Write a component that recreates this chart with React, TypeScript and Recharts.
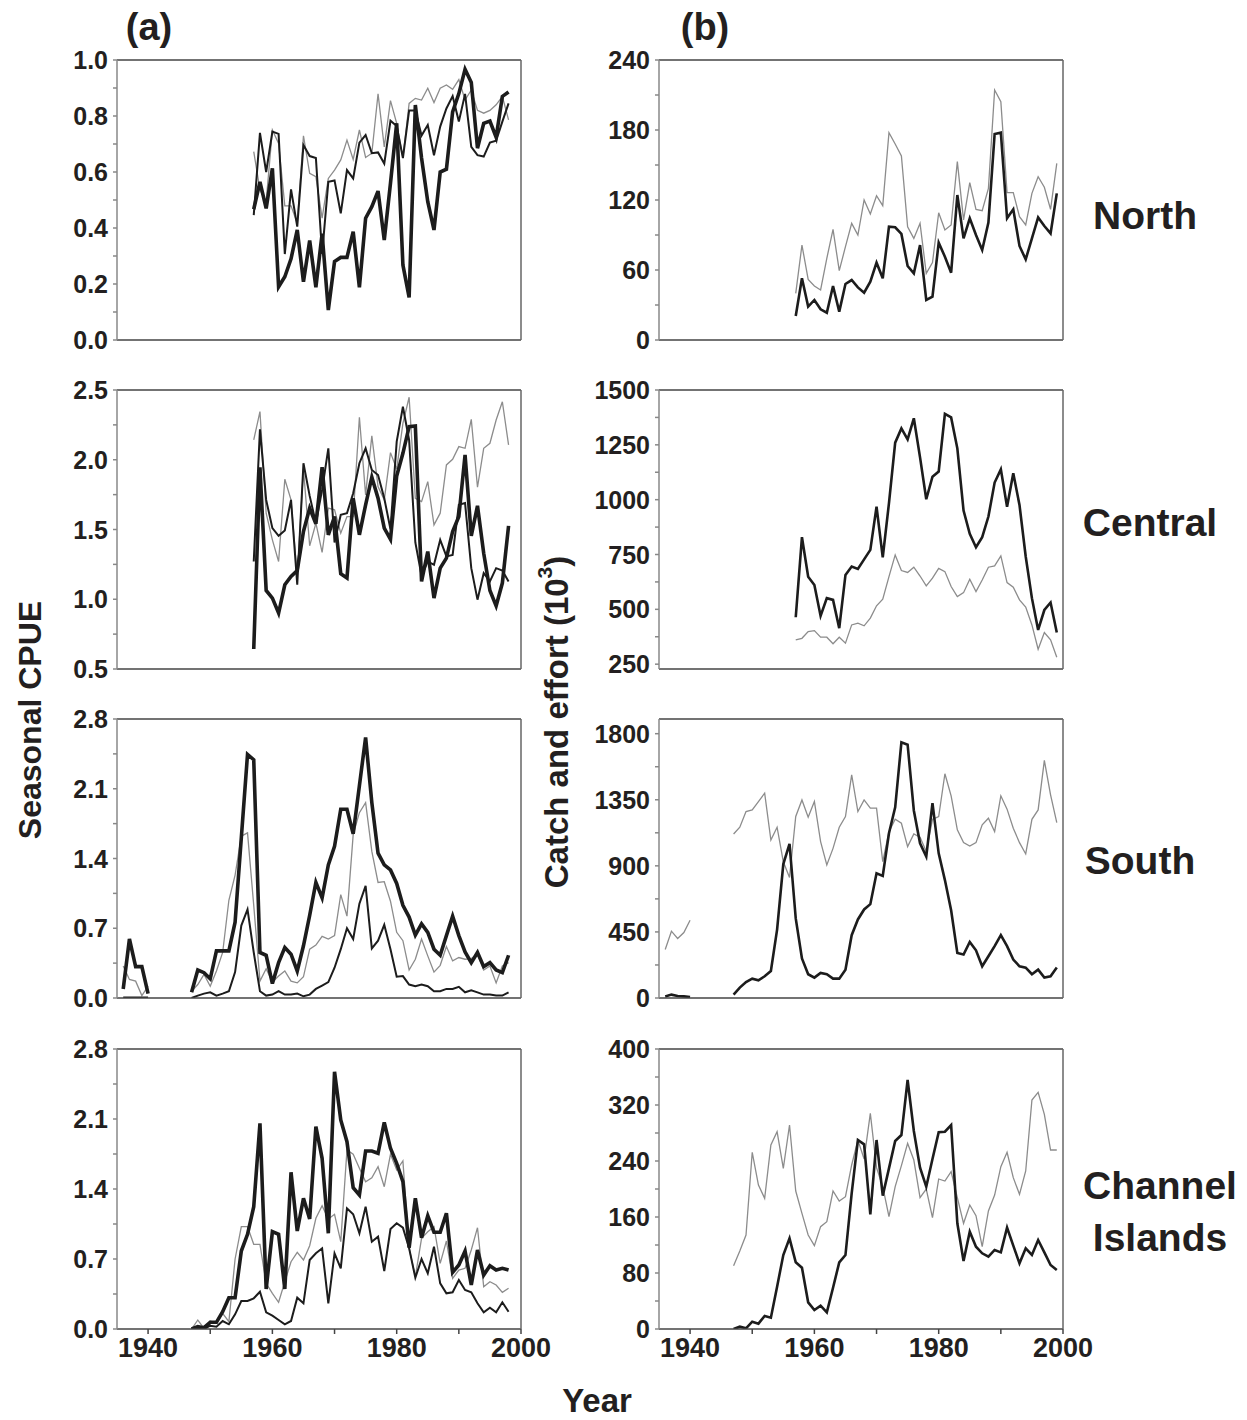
import React from 'react';
import { LineChart, Line, XAxis, YAxis } from 'recharts';

const FONT = '"Liberation Sans", Arial, Helvetica, sans-serif';
const INK = '#231f20';
const GRAY = '#8c8c8c';

// x axis
const YEAR_TICKS = [1940, 1950, 1960, 1970, 1980, 1990, 2000];
const YEAR_LABELS = [1940, 1960, 1980, 2000];

// (a) seasonal CPUE, North, 1957-1998
const A_NORTH_THICK = [0.467, 0.565, 0.47, 0.613, 0.19, 0.226, 0.29, 0.393, 0.208, 0.355, 0.188, 0.38, 0.107, 0.28, 0.295, 0.295, 0.387, 0.188, 0.435, 0.476, 0.532, 0.357, 0.56, 0.774, 0.268, 0.152, 0.839, 0.65, 0.494, 0.393, 0.6, 0.61, 0.815, 0.88, 0.967, 0.92, 0.685, 0.774, 0.782, 0.724, 0.87, 0.886];
const A_NORTH_THIN = [0.446, 0.74, 0.6, 0.744, 0.736, 0.307, 0.538, 0.405, 0.696, 0.657, 0.65, 0.307, 0.565, 0.57, 0.452, 0.607, 0.577, 0.705, 0.732, 0.667, 0.67, 0.63, 0.783, 0.764, 0.65, 0.82, 0.82, 0.73, 0.768, 0.66, 0.762, 0.827, 0.871, 0.78, 0.879, 0.69, 0.66, 0.655, 0.705, 0.712, 0.78, 0.845];
const A_NORTH_GRAY = [0.673, 0.536, 0.494, 0.75, 0.702, 0.479, 0.479, 0.417, 0.729, 0.595, 0.583, 0.435, 0.577, 0.607, 0.643, 0.714, 0.645, 0.75, 0.652, 0.667, 0.879, 0.69, 0.855, 0.774, 0.65, 0.845, 0.863, 0.857, 0.899, 0.848, 0.899, 0.911, 0.895, 0.93, 0.857, 0.893, 0.82, 0.81, 0.82, 0.84, 0.87, 0.786];

// (a) Central, 1957-1998
const A_CENTRAL_THICK = [0.643, 1.946, 1.063, 1.008, 0.901, 1.104, 1.163, 1.206, 1.486, 1.653, 1.54, 1.946, 1.462, 1.593, 1.183, 1.152, 1.724, 1.462, 1.677, 1.875, 1.724, 1.51, 1.43, 1.884, 2.046, 2.237, 2.242, 1.128, 1.342, 1.008, 1.223, 1.295, 1.486, 1.593, 2.035, 1.455, 1.67, 1.33, 1.063, 0.953, 1.116, 1.526];
const A_CENTRAL_THIN = [1.271, 2.218, 1.712, 1.51, 1.455, 1.493, 1.712, 1.104, 1.975, 1.741, 1.545, 1.784, 2.082, 1.407, 1.605, 1.617, 1.76, 1.975, 2.082, 1.927, 1.891, 1.724, 1.502, 2.13, 2.38, 2.142, 1.407, 1.168, 1.271, 1.247, 1.426, 1.307, 1.318, 1.677, 1.689, 1.223, 0.997, 1.187, 1.128, 1.223, 1.206, 1.128];
const A_CENTRAL_GRAY = [2.142, 2.345, 1.617, 1.426, 1.271, 1.86, 1.712, 1.163, 1.933, 1.383, 1.545, 1.336, 1.653, 1.641, 1.474, 1.593, 1.593, 2.305, 1.748, 2.171, 1.808, 1.712, 2.051, 1.933, 2.261, 2.448, 1.724, 1.7, 1.843, 1.533, 1.617, 1.963, 2.003, 2.094, 2.082, 2.29, 1.803, 2.082, 2.118, 2.285, 2.416, 2.106];

// (a) South, 1936-1998 (no data 1941-1946)
const A_SOUTH_THICK = [0.091, 0.592, 0.315, 0.315, 0.044, null, null, null, null, null, null, 0.057, 0.281, 0.254, 0.193, 0.473, 0.473, 0.473, 0.761, 1.606, 2.445, 2.391, 0.457, 0.429, 0.145, 0.355, 0.507, 0.44, 0.271, 0.524, 0.829, 1.16, 1.004, 1.336, 1.522, 1.894, 1.894, 1.647, 2.131, 2.614, 1.961, 1.454, 1.336, 1.285, 1.15, 0.93, 0.812, 0.632, 0.744, 0.659, 0.49, 0.429, 0.626, 0.822, 0.626, 0.463, 0.355, 0.457, 0.315, 0.355, 0.281, 0.254, 0.429];
const A_SOUTH_THIN = [0.005, 0.005, 0.005, 0.005, 0.005, null, null, null, null, null, null, 0, 0.024, 0.044, 0.057, 0.024, 0.044, 0.068, 0.26, 0.727, 0.889, 0.457, 0.068, 0.024, 0.034, 0.068, 0.034, 0.034, 0.044, 0.017, 0.034, 0.091, 0.125, 0.159, 0.304, 0.49, 0.7, 0.592, 0.947, 1.126, 0.497, 0.575, 0.734, 0.49, 0.213, 0.22, 0.135, 0.118, 0.135, 0.118, 0.068, 0.068, 0.091, 0.091, 0.112, 0.057, 0.078, 0.057, 0.034, 0.034, 0.024, 0.024, 0.057];
const A_SOUTH_GRAY = [0.321, 0.186, 0.169, 0.024, 0.118, null, null, null, null, null, null, 0.068, 0.135, 0.237, 0.118, 0.271, 0.457, 0.981, 1.234, 1.623, 1.657, 0.93, 0.169, 0.294, 0.159, 0.22, 0.271, 0.169, 0.152, 0.213, 0.49, 0.531, 0.619, 0.592, 0.626, 1.038, 0.822, 1.64, 1.86, 1.961, 1.471, 1.16, 1.167, 0.971, 0.659, 0.575, 0.281, 0.389, 0.592, 0.423, 0.26, 0.328, 0.517, 0.372, 0.406, 0.389, 0.396, 0.44, 0.281, 0.321, 0.152, 0.321, 0.355];

// (a) Channel Islands, 1947-1998
const A_CI_THICK = [0, 0.023, 0.013, 0.067, 0.067, 0.173, 0.313, 0.313, 0.78, 0.947, 1.223, 2.057, 0.4, 0.973, 0.947, 0.4, 1.567, 0.98, 1.307, 1.1, 2.023, 1.707, 0.957, 2.573, 2.09, 1.873, 1.413, 1.34, 1.78, 1.78, 1.757, 2.067, 1.807, 1.657, 1.473, 0.813, 1.307, 0.913, 1.133, 0.967, 0.967, 1.157, 0.567, 0.64, 0.78, 0.44, 0.79, 0.54, 0.633, 0.59, 0.607, 0.59];
const A_CI_THIN = [0, 0.007, 0, 0.033, 0.023, 0.08, 0.047, 0.147, 0.28, 0.28, 0.307, 0.373, 0.167, 0.133, 0.09, 0.047, 0.08, 0.313, 0.257, 0.69, 0.757, 0.807, 0.257, 0.757, 0.607, 1.207, 1.147, 0.957, 1.223, 0.873, 0.923, 0.58, 1.0, 1.057, 1.013, 0.807, 0.513, 0.7, 0.557, 0.823, 0.457, 0.357, 0.367, 0.49, 0.39, 0.367, 0.257, 0.167, 0.213, 0.167, 0.267, 0.173];
const A_CI_GRAY = [0, 0.09, 0.007, 0.08, 0.057, 0.157, 0.073, 0.7, 1.023, 1.023, 0.847, 0.847, 0.457, 0.357, 0.267, 0.473, 0.673, 0.767, 0.69, 0.833, 1.107, 1.233, 1.1, 1.147, 0.873, 1.79, 1.747, 1.607, 1.473, 1.513, 1.623, 1.423, 1.747, 1.59, 1.68, 0.807, 0.523, 0.907, 0.973, 1.023, 0.657, 0.88, 0.507, 0.59, 0.607, 0.79, 1.013, 0.423, 0.473, 0.44, 0.367, 0.407];

// (b) catch and effort (10^3), North, 1957-1999
const B_NORTH_BLACK = [20.6, 52.9, 28.6, 34.3, 26.3, 23.4, 46.3, 24.3, 48, 51.4, 45.1, 40.6, 50, 66.3, 52.9, 97.1, 96.6, 90.9, 63.4, 57.1, 81.4, 34.3, 37.1, 83.4, 71.4, 57.7, 124.3, 87.1, 104.3, 90, 77.1, 100.6, 176.6, 177.7, 104.3, 112, 80.6, 69.1, 87.1, 105.1, 97.7, 91.4, 125.7];
const B_NORTH_GRAY = [40, 81.4, 52, 46.3, 42.9, 70, 94.9, 59.4, 80, 100, 90, 120, 108, 123.7, 115.1, 177.7, 168, 157.7, 97.1, 87.1, 100, 57.1, 66.3, 109.1, 94.3, 98.6, 152.9, 102.9, 134.9, 112, 110.9, 130, 214.3, 204.3, 126.3, 126.3, 105.7, 98.6, 125.7, 140, 130.9, 112, 151.4];

// (b) Central, 1957-1999
const B_CENTRAL_BLACK = [464, 829, 649, 611, 470, 551, 543, 414, 657, 695, 684, 728, 771, 968, 737, 984, 1260, 1325, 1275, 1371, 1193, 1002, 1105, 1128, 1391, 1375, 1234, 950, 844, 783, 829, 923, 1078, 1138, 968, 1120, 976, 741, 551, 406, 497, 531, 394];
const B_CENTRAL_GRAY = [361, 368, 399, 403, 373, 373, 343, 373, 346, 429, 437, 425, 460, 516, 546, 649, 748, 677, 668, 692, 652, 607, 642, 687, 672, 604, 558, 576, 637, 581, 634, 692, 698, 744, 622, 601, 543, 510, 429, 318, 394, 361, 282];

// (b) South, 1936-1999 (no data 1941-1946)
const B_SOUTH_BLACK = [11, 23, 14, 11, 7, null, null, null, null, null, null, 23, 71, 109, 132, 121, 148, 184, 466, 912, 1049, 542, 269, 162, 139, 171, 162, 132, 132, 193, 428, 535, 603, 639, 849, 831, 1122, 1299, 1741, 1725, 1277, 1054, 963, 1327, 985, 803, 598, 307, 296, 382, 325, 216, 284, 353, 428, 353, 262, 216, 207, 162, 193, 139, 148, 207];
const B_SOUTH_GRAY = [330, 455, 405, 446, 530, null, null, null, null, null, null, 1117, 1163, 1270, 1281, 1338, 1395, 1076, 1163, 928, 821, 1236, 1349, 1231, 1338, 1065, 906, 1019, 1163, 1236, 1520, 1270, 1349, 1293, 1293, 928, 1133, 1217, 1190, 1031, 1117, 1095, 997, 1217, 1236, 1527, 1377, 1145, 1058, 1035, 1058, 1179, 1224, 1133, 1377, 1286, 1156, 1058, 981, 1217, 1281, 1618, 1384, 1195];

// (b) Channel Islands, 1947-1999
const B_CI_BLACK = [0, 3.3, 1, 10.5, 7.6, 18.6, 16.2, 60.5, 105.7, 129.5, 95.2, 87.6, 38.1, 27.1, 33.3, 23.8, 59, 95.2, 105.7, 193.8, 270, 263.8, 163.8, 270, 190.5, 229.5, 268.6, 277.1, 355.7, 282.9, 230.5, 203.3, 242.9, 281, 281.9, 291.4, 151, 97.1, 139, 117.6, 108.1, 103.3, 112.9, 109.5, 144.8, 119, 93.8, 115.2, 105.7, 127.1, 109.5, 91.4, 84.3];
const B_CI_GRAY = [90.5, 111.4, 134.3, 252.4, 205.7, 186.7, 262.9, 281.9, 229.5, 291.4, 197.1, 165.2, 134.3, 119, 146.2, 153.3, 197.1, 182.9, 189, 234.3, 270, 242.9, 308.1, 230.5, 203.3, 160.5, 203.3, 233.3, 265.2, 241.4, 187.6, 200, 159, 214.3, 211.4, 224.8, 187.6, 151, 177.1, 161.9, 117.6, 168.6, 191.4, 231.9, 252.4, 216.2, 192.4, 225.7, 327.1, 338.1, 306.7, 255.7, 255.7];

// y ticks (all = with minor ticks, major = labelled)
const A_N_TICKS = [0, 0.1, 0.2, 0.3, 0.4, 0.5, 0.6, 0.7, 0.8, 0.9, 1.0];
const A_N_MAJOR = [0, 0.2, 0.4, 0.6, 0.8, 1.0];
const A_C_TICKS = [0.5, 0.75, 1, 1.25, 1.5, 1.75, 2, 2.25, 2.5];
const A_C_MAJOR = [0.5, 1, 1.5, 2, 2.5];
const A_S_TICKS = [0, 0.35, 0.7, 1.05, 1.4, 1.75, 2.1, 2.45, 2.8];
const A_S_MAJOR = [0, 0.7, 1.4, 2.1, 2.8];
const B_N_TICKS = [0, 30, 60, 90, 120, 150, 180, 210, 240];
const B_N_MAJOR = [0, 60, 120, 180, 240];
const B_C_TICKS = [250, 375, 500, 625, 750, 875, 1000, 1125, 1250, 1375, 1500];
const B_C_MAJOR = [250, 500, 750, 1000, 1250, 1500];
const B_S_TICKS = [0, 225, 450, 675, 900, 1125, 1350, 1575, 1800];
const B_S_MAJOR = [0, 450, 900, 1350, 1800];
const B_CI_TICKS = [0, 40, 80, 120, 160, 200, 240, 280, 320, 360, 400];
const B_CI_MAJOR = [0, 80, 160, 240, 320, 400];

const buildRows = (start: number, series: Record<string, (number | null)[]>) => {
  const n = Math.max(...Object.values(series).map((s) => s.length));
  return Array.from({ length: n }, (_, i) => {
    const row: any = { year: start + i };
    Object.keys(series).forEach((k) => {
      row[k] = series[k][i] ?? null;
    });
    return row;
  });
};

const THICK = { key: 'thick', color: '#1c1c1c', width: 3.6 };
const THIN = { key: 'thin', color: '#1c1c1c', width: 2 };
const GRAY_A = { key: 'gray', color: GRAY, width: 1.3 };
const BLACK_B = { key: 'black', color: '#1c1c1c', width: 2.6 };
const GRAY_B = { key: 'gray', color: GRAY, width: 1.3 };

const A_SERIES = [GRAY_A, THIN, THICK];
const B_SERIES = [GRAY_B, BLACK_B];

const XTick = (props: any) => {
  const { x, y, payload } = props;
  if (!YEAR_LABELS.includes(payload.value)) return <g />;
  return (
    <text x={x} y={y} dy="0.71em" textAnchor="middle" fontFamily={FONT} fontWeight="bold" fontSize={27} fill={INK}>
      {payload.value}
    </text>
  );
};

const makeYTick = (major: number[], digits: number) => (props: any) => {
  const { x, y, payload } = props;
  if (!major.includes(payload.value)) return <g />;
  return (
    <text x={x} y={y} dy="0.36em" textAnchor="end" fontFamily={FONT} fontWeight="bold" fontSize={25} fill={INK}>
      {payload.value.toFixed(digits)}
    </text>
  );
};

type PanelProps = {
  left: number;
  top: number;
  plotH: number;
  rows: any[];
  series: { key: string; color: string; width: number }[];
  domain: [number, number];
  ticks: number[];
  major: number[];
  digits: number;
  xLabels?: boolean;
};

const Panel = ({ left, top, plotH, rows, series, domain, ticks, major, digits, xLabels }: PanelProps) => {
  const xh = xLabels ? 50 : 20;
  return (
    <div style={{ position: 'absolute', left: left - 75, top: top - 18 }}>
      <LineChart width={514} height={18 + plotH + xh} data={rows} margin={{ top: 18, right: 35, bottom: 0, left: 0 }}>
        <XAxis
          xAxisId="b"
          dataKey="year"
          type="number"
          domain={[1935, 2000]}
          allowDataOverflow
          ticks={YEAR_TICKS}
          interval={0}
          height={xh}
          tickSize={5}
          tickMargin={4}
          tick={xLabels ? XTick : false}
          stroke="#444"
          strokeWidth={1.5}
        />
        <XAxis
          xAxisId="t"
          orientation="top"
          mirror
          type="number"
          domain={[1935, 2000]}
          allowDataOverflow
          ticks={YEAR_TICKS}
          interval={0}
          tickSize={5}
          tick={false}
          stroke="#444"
          strokeWidth={1.5}
        />
        <YAxis
          yAxisId="l"
          type="number"
          domain={domain}
          allowDataOverflow
          ticks={ticks}
          interval={0}
          width={75}
          tickSize={4}
          tickMargin={5}
          tick={makeYTick(major, digits)}
          stroke="#888"
          strokeWidth={1.5}
        />
        <YAxis
          yAxisId="r"
          orientation="right"
          mirror
          type="number"
          domain={domain}
          allowDataOverflow
          ticks={ticks}
          interval={0}
          tickSize={5}
          tick={false}
          stroke="#666"
          strokeWidth={1.5}
        />
        {series.map((s) => (
          <Line
            key={s.key}
            xAxisId="b"
            yAxisId="l"
            type="linear"
            dataKey={s.key}
            stroke={s.color}
            strokeWidth={s.width}
            dot={false}
            activeDot={false}
            isAnimationActive={false}
          />
        ))}
      </LineChart>
    </div>
  );
};

const A_LEFT = 117;
const B_LEFT = 659;
const ROW_TOP = [60, 390, 719, 1049];
const ROW_H = [280, 279, 279, 280];

const labelStyle = { fontFamily: FONT, fontWeight: 'bold' as const, fill: INK };

export default function App() {
  const aNorth = buildRows(1957, { thick: A_NORTH_THICK, thin: A_NORTH_THIN, gray: A_NORTH_GRAY });
  const aCentral = buildRows(1957, { thick: A_CENTRAL_THICK, thin: A_CENTRAL_THIN, gray: A_CENTRAL_GRAY });
  const aSouth = buildRows(1936, { thick: A_SOUTH_THICK, thin: A_SOUTH_THIN, gray: A_SOUTH_GRAY });
  const aCi = buildRows(1947, { thick: A_CI_THICK, thin: A_CI_THIN, gray: A_CI_GRAY });
  const bNorth = buildRows(1957, { black: B_NORTH_BLACK, gray: B_NORTH_GRAY });
  const bCentral = buildRows(1957, { black: B_CENTRAL_BLACK, gray: B_CENTRAL_GRAY });
  const bSouth = buildRows(1936, { black: B_SOUTH_BLACK, gray: B_SOUTH_GRAY });
  const bCi = buildRows(1947, { black: B_CI_BLACK, gray: B_CI_GRAY });

  return (
    <div style={{ position: 'absolute', left: 0, top: 0, width: 1247, height: 1420, background: '#fff' }}>
      <svg width={1247} height={1420} style={{ position: 'absolute', left: 0, top: 0 }}>
        <text x={149} y={40} textAnchor="middle" fontSize={38} {...labelStyle}>(a)</text>
        <text x={705} y={40} textAnchor="middle" fontSize={38} {...labelStyle}>(b)</text>
        <text x={30} y={720} transform="rotate(-90 30 720)" textAnchor="middle" dominantBaseline="central" fontSize={32} {...labelStyle}>
          Seasonal CPUE
        </text>
        <text x={556} y={722} transform="rotate(-90 556 722)" textAnchor="middle" dominantBaseline="central" fontSize={33} {...labelStyle}>
          Catch and effort (10<tspan dy={-12} fontSize={21}>3</tspan><tspan dy={12}>)</tspan>
        </text>
        <text x={597} y={1412} textAnchor="middle" fontSize={33} {...labelStyle}>Year</text>
        <text x={1145} y={215} textAnchor="middle" dominantBaseline="central" fontSize={39} {...labelStyle}>North</text>
        <text x={1150} y={522} textAnchor="middle" dominantBaseline="central" fontSize={39} {...labelStyle}>Central</text>
        <text x={1140} y={860} textAnchor="middle" dominantBaseline="central" fontSize={39} {...labelStyle}>South</text>
        <text x={1160} y={1185} textAnchor="middle" dominantBaseline="central" fontSize={39} {...labelStyle}>Channel</text>
        <text x={1160} y={1237} textAnchor="middle" dominantBaseline="central" fontSize={39} {...labelStyle}>Islands</text>
      </svg>

      <Panel left={A_LEFT} top={ROW_TOP[0]} plotH={ROW_H[0]} rows={aNorth} series={A_SERIES} domain={[0, 1]} ticks={A_N_TICKS} major={A_N_MAJOR} digits={1} />
      <Panel left={A_LEFT} top={ROW_TOP[1]} plotH={ROW_H[1]} rows={aCentral} series={A_SERIES} domain={[0.5, 2.5]} ticks={A_C_TICKS} major={A_C_MAJOR} digits={1} />
      <Panel left={A_LEFT} top={ROW_TOP[2]} plotH={ROW_H[2]} rows={aSouth} series={A_SERIES} domain={[0, 2.8]} ticks={A_S_TICKS} major={A_S_MAJOR} digits={1} />
      <Panel left={A_LEFT} top={ROW_TOP[3]} plotH={ROW_H[3]} rows={aCi} series={A_SERIES} domain={[0, 2.8]} ticks={A_S_TICKS} major={A_S_MAJOR} digits={1} xLabels />

      <Panel left={B_LEFT} top={ROW_TOP[0]} plotH={ROW_H[0]} rows={bNorth} series={B_SERIES} domain={[0, 240]} ticks={B_N_TICKS} major={B_N_MAJOR} digits={0} />
      <Panel left={B_LEFT} top={ROW_TOP[1]} plotH={ROW_H[1]} rows={bCentral} series={B_SERIES} domain={[228, 1500]} ticks={B_C_TICKS} major={B_C_MAJOR} digits={0} />
      <Panel left={B_LEFT} top={ROW_TOP[2]} plotH={ROW_H[2]} rows={bSouth} series={B_SERIES} domain={[0, 1900]} ticks={B_S_TICKS} major={B_S_MAJOR} digits={0} />
      <Panel left={B_LEFT} top={ROW_TOP[3]} plotH={ROW_H[3]} rows={bCi} series={B_SERIES} domain={[0, 400]} ticks={B_CI_TICKS} major={B_CI_MAJOR} digits={0} xLabels />
    </div>
  );
}
